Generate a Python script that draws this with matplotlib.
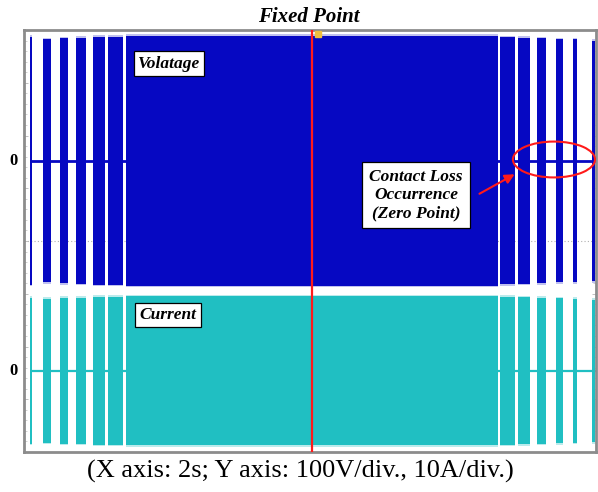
import matplotlib
matplotlib.use('Agg')
import numpy as np
import matplotlib.pyplot as plt
from matplotlib.patches import Ellipse

# time axis in seconds (10 div x 2 s), vertical axis in scope divisions
burst_start = [0.22, 0.66, 1.26, 1.82, 2.41, 2.94, 3.57, 16.64, 17.27, 17.94, 18.60, 19.20, 19.86]
burst_end = [0.27, 0.94, 1.54, 2.17, 2.83, 3.46, 16.57, 17.17, 17.69, 18.25, 18.85, 19.34, 19.97]

volt_offset = 1.52    # div
volt_amp = [2.35, 2.30, 2.32, 2.33, 2.35, 2.35, 2.37, 2.34, 2.33, 2.32, 2.30, 2.30, 2.28]
curr_offset = -2.46   # div
curr_amp = [1.38, 1.36, 1.38, 1.38, 1.40, 1.40, 1.41, 1.40, 1.39, 1.38, 1.37, 1.36, 1.35]

fixed_point = 10.07
contact_loss = (18.53, 1.545)

VOLT_COLOR = '#0608c2'
CURR_COLOR = '#20bfc2'

plt.rcParams['font.family'] = ['Liberation Serif', 'DejaVu Serif']

fig = plt.figure(figsize=(5.98, 4.92), dpi=100)
ax = fig.add_axes([24 / 598, 40 / 492, 572 / 598, 422 / 492])
ax.set_xlim(0, 20)
ax.set_ylim(-4, 4)

# graticule
ax.axhline(0, color='#b0b0b0', lw=0.8, ls=(0, (1, 2)), zorder=0)
ax.set_xticks([])
ax.set_yticks(np.arange(-4, 5, 1))
ax.set_yticks(np.arange(-4, 4.01, 0.2), minor=True)
ax.tick_params(which='both', direction='in', right=True,
               labelbottom=False, labelleft=False, color='#c0c0c0')
ax.tick_params(which='major', length=3, width=0.7)
ax.tick_params(which='minor', length=2, width=0.5)
for sp in ax.spines.values():
    sp.set_color('#8c8c8c')
    sp.set_linewidth(2)

# zero lines between bursts
ax.hlines(volt_offset, burst_start[0], 20, color=VOLT_COLOR, lw=2, zorder=1)
ax.hlines(curr_offset, burst_start[0], 20, color=CURR_COLOR, lw=1.6, zorder=1)

widths = [e - s for s, e in zip(burst_start, burst_end)]
va = np.array(volt_amp)
ca = np.array(curr_amp)

# soft fringe round the envelopes
ax.bar(burst_start, 2 * va + 0.06, bottom=volt_offset - va - 0.03, width=widths,
       align='edge', color=VOLT_COLOR, alpha=0.25, lw=0, zorder=2)
ax.bar(burst_start, 2 * ca + 0.06, bottom=curr_offset - ca - 0.03, width=widths,
       align='edge', color=CURR_COLOR, alpha=0.3, lw=0, zorder=2)
# bursts
ax.bar(burst_start, 2 * va, bottom=volt_offset - va, width=widths,
       align='edge', color=VOLT_COLOR, lw=0, zorder=3)
ax.bar(burst_start, 2 * ca, bottom=curr_offset - ca, width=widths,
       align='edge', color=CURR_COLOR, lw=0, zorder=3)

# fixed point marker
ax.axvline(fixed_point, color='#ff1a1a', lw=1.6, zorder=5)
ax.plot(fixed_point + 0.2, 3.93, marker='s', ms=4, color='#f0c040', zorder=6, clip_on=False)

box = dict(boxstyle='square,pad=0.25', fc='white', ec='black', lw=0.9)
ax.text(5.07, 3.36, 'Volatage', ha='center', va='center', fontsize=12.5,
        fontweight='bold', fontstyle='italic', bbox=box, zorder=7)
ax.text(5.03, -1.40, 'Current', ha='center', va='center', fontsize=12.5,
        fontweight='bold', fontstyle='italic', bbox=box, zorder=7)
ax.text(13.71, 0.87, 'Contact Loss\nOccurrence\n(Zero Point)', ha='center', va='center',
        fontsize=12.5, fontweight='bold', fontstyle='italic', linespacing=1.15,
        bbox=dict(boxstyle='square,pad=0.4', fc='white', ec='black', lw=0.9), zorder=7)

ax.add_patch(Ellipse(contact_loss, 2.87, 0.68, fill=False, ec='#ff1a1a', lw=1.5, zorder=8))
ax.annotate('', xy=(17.24, 1.29), xytext=(15.84, 0.87),
            arrowprops=dict(arrowstyle='-|>', color='#ff1a1a', lw=1.5, mutation_scale=14),
            zorder=8)

# zero labels
for off in (volt_offset, curr_offset):
    ax.text(-0.019, off, '0', transform=ax.get_yaxis_transform(), ha='center',
            va='center', fontsize=12, fontweight='bold')

fig.text(308.5 / 598, 1 - 17 / 492, 'Fixed Point', ha='center', va='center',
         fontsize=15, fontweight='bold', fontstyle='italic')
fig.text(300 / 598, 1 - 471 / 492, '(X axis: 2s; Y axis: 100V/div., 10A/div.)',
         ha='center', va='center', fontsize=19)

fig.savefig('out.png', dpi=100)
